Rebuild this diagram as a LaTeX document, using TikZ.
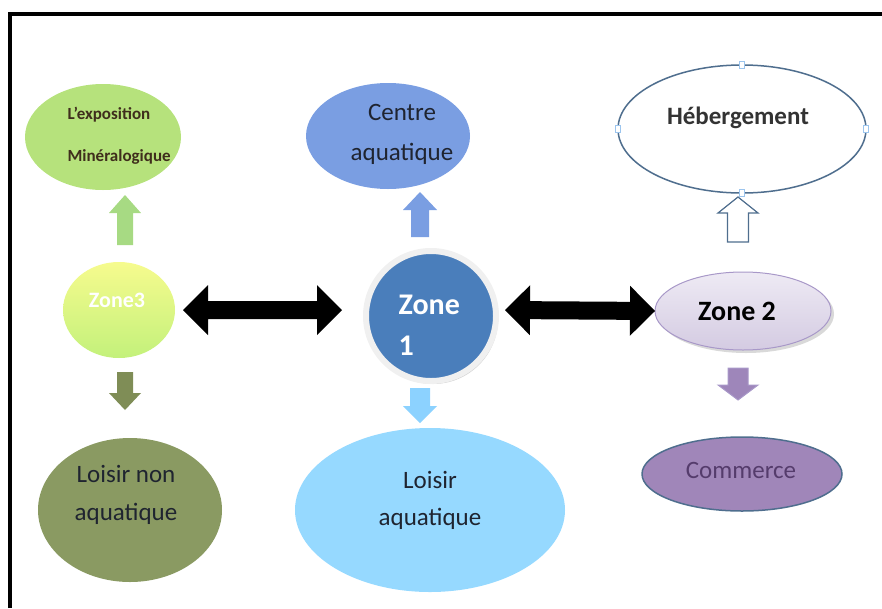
\documentclass[tikz,border=0pt]{standalone}
\usepackage{fontspec}
\setmainfont{Carlito}
\usetikzlibrary{shapes.geometric,shadows,calc}
\definecolor{expogreen}{HTML}{B6E27C}
\definecolor{upgreen}{HTML}{A7DA83}
\definecolor{olivefill}{HTML}{8A9A62}
\definecolor{olivearrow}{HTML}{7F8D56}
\definecolor{centreblue}{HTML}{7A9EE2}
\definecolor{zoneblue}{HTML}{4A7EBB}
\definecolor{skyblue}{HTML}{96D9FF}
\definecolor{skyarrow}{HTML}{8CD2FF}
\definecolor{slate}{HTML}{4F6E8E}
\definecolor{lavtop}{HTML}{EEEAF4}
\definecolor{lavbottom}{HTML}{D4CBE2}
\definecolor{lavline}{HTML}{A898C8}
\definecolor{mauve}{HTML}{A086B9}
\definecolor{mauvetext}{HTML}{553C6C}
\definecolor{mauvearrow}{HTML}{9E86BA}
\definecolor{yellowtop}{HTML}{F6FB8E}
\definecolor{yellowbottom}{HTML}{C3F17B}
\definecolor{handleblue}{HTML}{9CC5EE}
\definecolor{expotext}{HTML}{3F2E1C}
\definecolor{inktext}{HTML}{1F2430}

\begin{document}
\begin{tikzpicture}[x=1pt,y=-1pt,
		zone/.style={ellipse,inner sep=0pt,outer sep=0pt},
		txt/.style={align=center,text=inktext,font=\fontsize{25}{38}\selectfont},
		handle/.style={rectangle,draw=handleblue,fill=white,line width=0.8,minimum width=5,minimum height=7,inner sep=0pt},
		blockarrow/.style n args={3}{to path={let \p1=($(\tikztotarget)-(\tikztostart)$),\n1={veclen(\x1,\y1)},\n2={atan2(\y1,\x1)} in
			($(\tikztostart)+(\n2+90:{#1/2})$) -- ++(\n2:{\n1*1pt-#3}) -- ++(\n2+90:{#2/2-#1/2}) -- (\tikztotarget)
			-- ($(\tikztostart)+(\n2:{\n1*1pt-#3})+(\n2-90:{#2/2})$) -- ++(\n2+90:{#2/2-#1/2}) -- ++(\n2+180:{\n1*1pt-#3}) -- cycle}},
		dblockarrow/.style n args={3}{to path={let \p1=($(\tikztotarget)-(\tikztostart)$),\n1={veclen(\x1,\y1)},\n2={atan2(\y1,\x1)} in
			($(\tikztostart)+(\n2:{#3})+(\n2+90:{#1/2})$) -- ++(\n2:{\n1*1pt-2*#3}) -- ++(\n2+90:{#2/2-#1/2}) -- (\tikztotarget)
			-- ($(\tikztotarget)+(\n2+180:{#3})+(\n2-90:{#2/2})$) -- ++(\n2+90:{#2/2-#1/2}) -- ++(\n2+180:{\n1*1pt-2*#3}) -- ++(\n2-90:{#2/2-#1/2})
			-- (\tikztostart) -- ($(\tikztostart)+(\n2:{#3})+(\n2+90:{#2/2})$) -- cycle}}]
	\useasboundingbox (0,0) rectangle (882,608);
	\draw[line width=4.5] (10,608) -- (10,14) -- (882,14);
	\node[zone,fill=expogreen,minimum width=156,minimum height=106] (expo) at (103,137) {};
	\node[txt,anchor=west,align=left,text=expotext,font=\bfseries\fontsize{17}{42}\selectfont] (expotxt) at (64,136) {L’exposition\\Minéralogique};
	\node[zone,top color=yellowtop,bottom color=yellowbottom,minimum width=112,minimum height=96] (zthree) at (119,310) {};
	\node[txt,text=white,font=\bfseries\fontsize{22}{26}\selectfont] (zthreetxt) at (117,300) {Zone3};
	\node[zone,fill=olivefill,minimum width=184,minimum height=144] (lnonaq) at (130,510) {};
	\node[txt] (lnonaqtxt) at (126,495) {Loisir non\\aquatique};
	\node[zone,fill=centreblue,minimum width=164,minimum height=106] (centre) at (388,136) {};
	\node[txt,font=\fontsize{25}{40}\selectfont] (centretxt) at (402,134) {Centre\\aquatique};
	\node[circle,fill=zoneblue,draw=gray!12,line width=6,minimum size=130,inner sep=0pt,
		drop shadow={shadow xshift=2pt,shadow yshift=-3pt,opacity=.35}] (zone1) at (431,316) {};
	\node[txt,anchor=west,align=left,text=white,font=\bfseries\fontsize{30}{41}\selectfont] (zone1txt) at (395,325) {Zone\\1};
	\node[zone,fill=skyblue,minimum width=270,minimum height=164] (laq) at (430,510) {};
	\node[txt,font=\fontsize{25}{37}\selectfont] (laqtxt) at (430,500) {Loisir\\aquatique};
	\node[zone,fill=white,draw=slate,line width=1.5,minimum width=248,minimum height=128] (heb) at (742,129) {};
	\node[txt,text=black!80,font=\bfseries\fontsize{25}{30}\selectfont] (hebtxt) at (738,118) {Hébergement};
	\foreach \a in {north,south,east,west}
		\node[handle] (h\a) at (heb.\a) {};
	\node[zone,top color=lavtop,bottom color=lavbottom,draw=lavline,line width=1,minimum width=176,minimum height=78,
		drop shadow={shadow xshift=3pt,shadow yshift=-3pt,opacity=.3},txt,text=black,font=\bfseries\fontsize{28}{32}\selectfont] (ztwo) at (743,311) {\hspace{-12pt}Zone 2};
	\node[zone,fill=mauve,draw=slate,line width=1.5,minimum width=200,minimum height=74] (comm) at (742,474) {};
	\node[txt,text=mauvetext] (commtxt) at (741,470) {Commerce};
	\fill[blockarrow={16pt}{32pt}{18pt},upgreen] ([xshift=6,yshift=17]zthree.north) to ([xshift=22,yshift=-5]expo.south);
	\fill[blockarrow={16pt}{32pt}{17pt},olivearrow] ([xshift=6,yshift=-14]zthree.south) to ([xshift=-5,yshift=28]lnonaq.north);
	\fill[blockarrow={18pt}{34pt}{18pt},centreblue] ([xshift=-11,yshift=11]zone1.north) to ([xshift=32,yshift=-3]centre.south);
	\fill[blockarrow={20pt}{34pt}{17pt},skyarrow] ([xshift=-11,yshift=-4]zone1.south) to ([xshift=-10,yshift=5]laq.north);
	\draw[blockarrow={21pt}{40pt}{16pt},fill=white,draw=slate,line width=1.2] ([xshift=-5,yshift=30]ztwo.north) to ([xshift=-4,yshift=-4]heb.south);
	\draw[blockarrow={20pt}{40pt}{15pt},fill=mauvearrow,draw=lavline,line width=1] ([xshift=-5,yshift=-18]ztwo.south) to ([xshift=-4,yshift=37]comm.north);
	\fill[dblockarrow={18pt}{50pt}{25pt}] ([xshift=8]zthree.east) to ([xshift=-21,yshift=6]zone1.west);
	\fill[dblockarrow={18pt}{50pt}{25pt}] ([xshift=6,yshift=6]zone1.east) to (ztwo.west);
\end{tikzpicture}
\end{document}
